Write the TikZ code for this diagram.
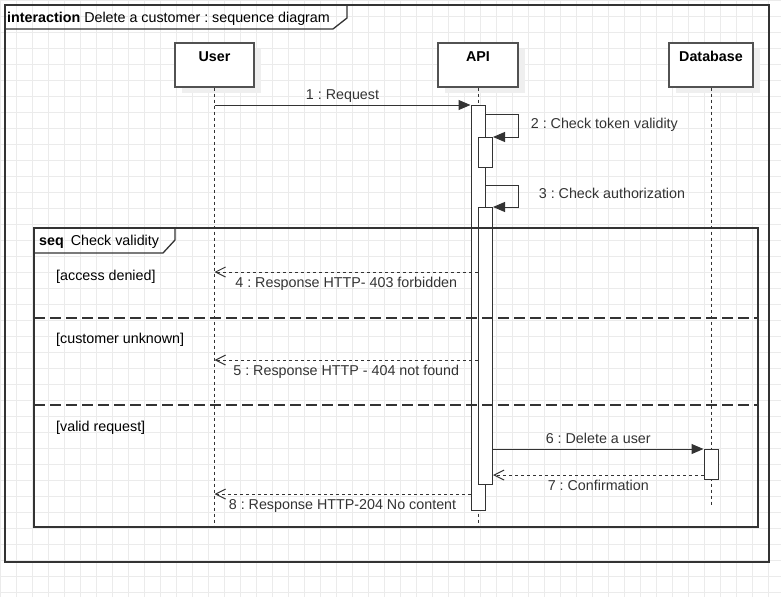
\documentclass[tikz,border=0pt]{standalone}
\usepackage{fontspec}
\setmainfont{Liberation Sans}
\usetikzlibrary{arrows.meta,shadows}
\definecolor{gridgray}{HTML}{EBEBEB}
\definecolor{linegray}{HTML}{333333}
\definecolor{shadowgray}{HTML}{EFEFEF}
\frenchspacing
\tikzset{
  gridline/.style={gridgray, line width=0.8pt},
  frameline/.style={linegray, line width=1.3pt},
  lifehead/.style={draw=linegray!85, line width=1.3pt, fill=white,
    text height=14pt, text depth=22pt, inner ysep=4pt, minimum width=80pt,
    font=\fontsize{14.3}{17}\selectfont\bfseries,
    general shadow={fill=shadowgray, shadow xshift=7pt, shadow yshift=-6pt}},
  lifeline/.style={linegray, line width=1pt, dash pattern=on 3pt off 3pt},
  actbar/.style={draw=linegray, line width=1pt, fill=white, minimum width=14pt,
    inner sep=0pt, anchor=north},
  call/.style={linegray, line width=1pt, -{Triangle[length=12pt,width=10pt]}},
  reply/.style={linegray, line width=1pt, dash pattern=on 3pt off 3pt,
    -{Straight Barb[length=10pt,width=10pt]}},
  abovemsg/.style={anchor=base, yshift=6pt},
  belowmsg/.style={anchor=base, yshift=-15pt},
  guard/.style={anchor=west, inner sep=0pt},
  divider/.style={linegray, line width=1.5pt, dash pattern=on 11pt off 5pt},
}

\begin{document}
\begin{tikzpicture}[x=1pt, y=-1pt, font=\fontsize{14.3}{17}\selectfont]
\useasboundingbox (0,0) rectangle (781,597);
% background grid
\foreach \gx in {0,16,...,780} \draw[gridline] (\gx,0) -- (\gx,597);
\foreach \gy in {0,16,...,592} \draw[gridline] (0,\gy) -- (781,\gy);

% interaction frame
\draw[frameline] (5,5) rectangle (769,562);
\draw[frameline] (5,29) -- (333,29) -- (347,18) -- (347,5);
\node[anchor=base west, inner sep=0pt] (title) at (7,22) {\textbf{interaction} Delete a customer : sequence diagram};

% lifelines
\node[lifehead, minimum width=79pt] (user) at (214.5,65) {User};
\node[lifehead] (api) at (478,65) {API};
\node[lifehead, minimum width=84pt] (db) at (711,65) {Database};
\coordinate (seqbot) at (0,527);
\coordinate (dbend) at (711,507);
\draw[lifeline] (user.south) -- (user |- seqbot);
\draw[lifeline] (api.south) -- (api |- seqbot);
\draw[lifeline] (db.south) -- (dbend);

% activation bars
\node[actbar, minimum height=405pt] (apibar) at (478,105) {};
\node[actbar, minimum height=30pt] (chkbar) at (485.5,137) {};
\node[actbar, minimum height=277pt] (authbar) at (485.5,207) {};
\node[actbar, minimum height=30pt] (dbbar) at (711,449) {};

% messages
\draw[call] (user |- apibar.north) -- (apibar.north west) node[midway, abovemsg] {1 : Request};
\draw[call] ([yshift=-9pt]apibar.north east) -- ++(32.5,0)
  node[anchor=base west, xshift=9pt, yshift=-14pt] {2 : Check token validity} |- (chkbar.north east);
\draw[call] ([yshift=-80pt]apibar.north east) -- ++(32.5,0)
  node[anchor=base west, xshift=17pt, yshift=-13.5pt] {3 : Check authorization} |- (authbar.north east);
\draw[reply] ([yshift=-65pt]authbar.north west) coordinate (m4) -- (user |- m4)
  node[midway, belowmsg] {4 : Response HTTP- 403 forbidden};
\draw[reply] ([yshift=-153pt]authbar.north west) coordinate (m5) -- (user |- m5)
  node[midway, belowmsg] {5 : Response HTTP - 404 not found};
\draw[call] (authbar.east |- dbbar.north) -- (dbbar.north west) node[midway, abovemsg] {6 : Delete a user};
\draw[reply] ([yshift=-26pt]dbbar.north west) coordinate (m7) -- (authbar.east |- m7)
  node[midway, belowmsg] {7 : Confirmation};
\draw[reply] ([yshift=17pt]apibar.south west) coordinate (m8) -- (user |- m8)
  node[midway, belowmsg] {8 : Response HTTP-204 No content};

% seq fragment
\draw[frameline] (34,228) rectangle (758,527);
\draw[frameline] (34,253) -- (163,253) -- (175,240) -- (175,228);
\node[anchor=base west, inner sep=0pt] (seqtitle) at (39,245) {\textbf{seq}\hspace{7pt}Check validity};
\draw[divider] (34,318) -- (758,318);
\draw[divider] (34,405) -- (758,405);
\node[guard] (denied) at (56,276.7) {[access denied]};
\node[guard] (unknown) at (56,340) {[customer unknown]};
\node[guard] (valid) at (56,428) {[valid request]};
\end{tikzpicture}
\end{document}
